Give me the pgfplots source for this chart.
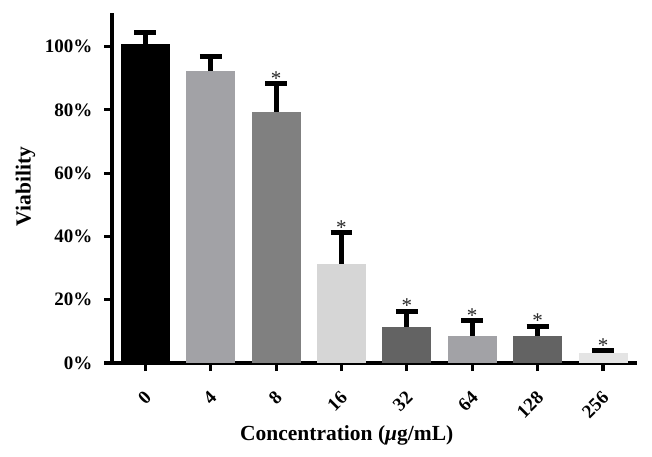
\documentclass[border=0pt]{standalone}
\usepackage{pgfplots}
\pgfplotsset{compat=1.18}
\usepackage{fontspec}
\setmainfont{Liberation Serif}
\definecolor{cA}{RGB}{0,0,0}
\definecolor{cB}{RGB}{162,162,166}
\definecolor{cC}{RGB}{128,128,128}
\definecolor{cD}{RGB}{214,214,214}
\definecolor{cE}{RGB}{99,99,99}
\definecolor{cF}{RGB}{162,162,166}
\definecolor{cG}{RGB}{99,99,99}
\definecolor{cH}{RGB}{228,228,228}
\pgfplotsset{
  mybar/.style={ybar, bar width=49pt, bar shift=0pt, draw=none, fill=#1,
    error bars/.cd, y dir=plus, y explicit,
    error bar style={line width=5pt, black},
    error mark=|, error mark options={line width=5pt, mark size=10.9pt, black}}
}
\begin{document}
\begin{tikzpicture}
\useasboundingbox (0,0) rectangle (652pt,456pt);
\begin{axis}[
  at={(112pt,93pt)}, anchor=south west,
  scale only axis, width=525pt, height=350pt,
  xmin=-0.51, xmax=7.52, ymin=0, ymax=110.6,
  axis lines*=left,
  axis line style={line width=3.2pt, black, -},
  tick style={line width=3.2pt, black},
  major tick length=8pt, tick align=outside,
  xtick={0,...,7},
  xticklabels={0,4,8,16,32,64,128,256},
  ytick={0,20,40,60,80,100},
  yticklabels={0\%,20\%,40\%,60\%,80\%,100\%},
  ticklabel style={font=\bfseries\fontsize{19}{22}\selectfont},
  yticklabel style={xshift=-8pt},
  xticklabel style={xshift=5pt, yshift=-21pt, rotate=45, anchor=east},
  xlabel={Concentration (\textit{μ}g/mL)},
  ylabel={Viability},
  label style={font=\bfseries\fontsize{21.5}{26}\selectfont},
  xlabel style={at={(axis description cs:0.447,-0.22)}, anchor=base},
  ylabel style={at={(axis description cs:-0.165,0.504)}, anchor=center, rotate=0},
  clip=false,
]
\addplot[mybar=cA] coordinates {(0,100.8) +- (0,3.5)};
\addplot[mybar=cB] coordinates {(1,92.4) +- (0,4.3)};
\addplot[mybar=cC] coordinates {(2,79.4) +- (0,8.8)};
\addplot[mybar=cD] coordinates {(3,31.3) +- (0,9.8)};
\addplot[mybar=cE] coordinates {(4,11.5) +- (0,4.8)};
\addplot[mybar=cF] coordinates {(5,8.6) +- (0,4.8)};
\addplot[mybar=cG] coordinates {(6,8.5) +- (0,3.1)};
\addplot[mybar=cH] coordinates {(7,3.3) +- (0,0.5)};
\addplot[draw=none, mark=none, nodes near coords={*},
  nodes near coords style={font=\fontsize{21}{24}\selectfont, anchor=base, inner sep=0pt, yshift=-1.5pt, text=black!85}]
  coordinates {(2,88.2) (3,41.1) (4,16.3) (5,13.4) (6,11.6) (7,3.8)};
\end{axis}
\end{tikzpicture}
\end{document}
